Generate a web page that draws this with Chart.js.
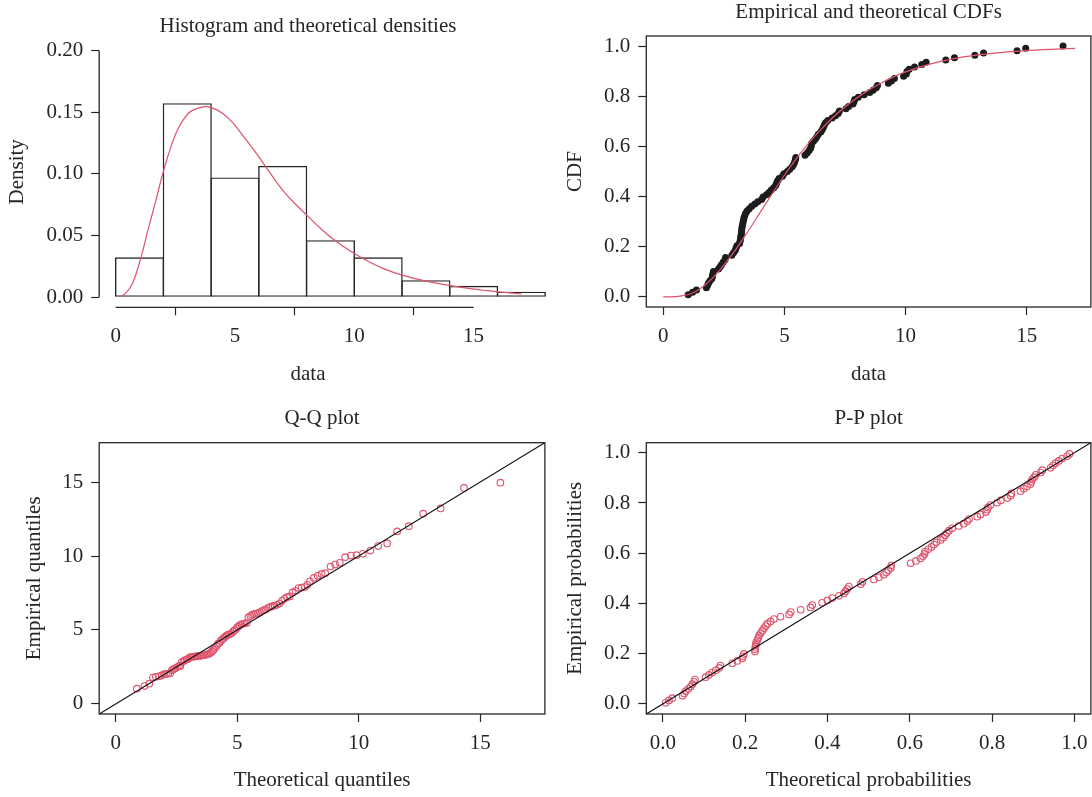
<!DOCTYPE html>
<html>
<head>
<meta charset="utf-8">
<script src="https://cdn.jsdelivr.net/npm/chart.js@4.4.1/dist/chart.umd.min.js"></script>
<style>
  html, body { margin: 0; padding: 0; background: #fff; }
  #wrap { position: relative; width: 1092px; height: 797px; }
  canvas { position: absolute; }
</style>
</head>
<body>
<div id="wrap">
  <canvas id="hist" width="546" height="398" style="left:0;top:0"></canvas>
  <canvas id="cdf" width="546" height="398" style="left:546px;top:0"></canvas>
  <canvas id="qq" width="546" height="399" style="left:0;top:398px"></canvas>
  <canvas id="pp" width="546" height="399" style="left:546px;top:398px"></canvas>
</div>
<script>
// sorted sample (read from the CDF / Q-Q panels)
const sampleData = [
  1.03, 1.21, 1.37, 1.78, 1.83, 1.87, 1.93, 2.01, 2.03, 2.05,
  2.07, 2.28, 2.35, 2.41, 2.48, 2.55, 2.57, 2.83, 2.90, 2.97,
  3.00, 3.04, 3.15, 3.17, 3.19, 3.20, 3.22, 3.23, 3.24, 3.25,
  3.27, 3.29, 3.31, 3.33, 3.36, 3.40, 3.46, 3.55, 3.65, 3.78,
  3.90, 4.06, 4.12, 4.26, 4.36, 4.46, 4.56, 4.64, 4.68, 4.72,
  4.78, 4.92, 4.98, 5.12, 5.22, 5.32, 5.38, 5.42, 5.45, 5.47,
  5.85, 5.94, 6.02, 6.08, 6.11, 6.12, 6.20, 6.28, 6.34, 6.40,
  6.50, 6.56, 6.61, 6.65, 6.70, 6.79, 6.97, 7.11, 7.22, 7.27,
  7.54, 7.65, 7.83, 7.87, 7.90, 8.05, 8.29, 8.52, 8.66, 8.79,
  8.84, 9.29, 9.42, 9.54, 9.92, 10.03, 10.06, 10.15, 10.37, 10.67,
  10.85, 11.66, 12.02, 12.86, 13.22, 14.60, 14.96, 16.50
];

// theoretical quantiles (Q-Q panel, x)
const qqTheo = [
  0.87, 1.18, 1.38, 1.53, 1.65, 1.78, 1.89, 1.99, 2.07, 2.16,
  2.24, 2.31, 2.38, 2.45, 2.52, 2.60, 2.66, 2.72, 2.79, 2.85,
  2.92, 2.98, 3.05, 3.11, 3.18, 3.24, 3.30, 3.36, 3.42, 3.48,
  3.54, 3.60, 3.66, 3.72, 3.78, 3.84, 3.90, 3.96, 4.02, 4.08,
  4.14, 4.20, 4.26, 4.32, 4.38, 4.45, 4.51, 4.57, 4.64, 4.70,
  4.77, 4.84, 4.90, 4.97, 5.03, 5.10, 5.17, 5.24, 5.31, 5.39,
  5.46, 5.54, 5.61, 5.69, 5.77, 5.85, 5.93, 6.01, 6.10, 6.18,
  6.27, 6.36, 6.45, 6.54, 6.64, 6.74, 6.84, 6.94, 7.05, 7.16,
  7.28, 7.40, 7.52, 7.65, 7.78, 7.88, 7.99, 8.15, 8.31, 8.47,
  8.62, 8.84, 9.03, 9.22, 9.44, 9.68, 9.91, 10.17, 10.48, 10.80,
  11.17, 11.58, 12.06, 12.65, 13.37, 14.33, 15.83, 19.0
];

// theoretical probabilities (P-P panel, x)
const ppTheo = [
  0.007, 0.015, 0.023, 0.048, 0.052, 0.056, 0.062, 0.068, 0.072, 0.076,
  0.078, 0.104, 0.112, 0.120, 0.129, 0.137, 0.140, 0.169, 0.181, 0.193,
  0.195, 0.197, 0.224, 0.224, 0.225, 0.226, 0.227, 0.230, 0.232, 0.234,
  0.238, 0.242, 0.246, 0.250, 0.254, 0.262, 0.270, 0.286, 0.307, 0.311,
  0.335, 0.359, 0.363, 0.387, 0.400, 0.412, 0.428, 0.440, 0.444, 0.448,
  0.452, 0.481, 0.485, 0.513, 0.525, 0.537, 0.543, 0.548, 0.554, 0.555,
  0.602, 0.615, 0.626, 0.632, 0.636, 0.637, 0.645, 0.653, 0.659, 0.665,
  0.675, 0.681, 0.686, 0.690, 0.695, 0.703, 0.719, 0.731, 0.740, 0.744,
  0.764, 0.772, 0.785, 0.788, 0.790, 0.796, 0.812, 0.821, 0.837, 0.845,
  0.847, 0.869, 0.877, 0.885, 0.893, 0.895, 0.897, 0.902, 0.906, 0.918,
  0.922, 0.942, 0.948, 0.954, 0.962, 0.970, 0.982, 0.988
];

// histogram bins
const binMids = [1, 3, 5, 7, 9, 11, 13, 15, 17];
const binDensity = [0.0324, 0.1574, 0.0972, 0.1065, 0.0463, 0.0324, 0.0139, 0.0093, 0.0046];

// fitted density curve
const densX = [0.2, 0.41, 0.7, 1.07, 1.36, 1.65, 1.97, 2.23, 2.6, 3.04, 3.4, 3.76, 4.13, 4.49, 4.93,
  5.37, 5.81, 6.25, 6.68, 7.12, 7.56, 8.0, 8.58, 9.16, 10.0, 10.6, 11.2, 12.0, 13.1, 14.0,
  14.86, 15.58, 16.3, 17.0];
const densY = [0.0005, 0.0032, 0.011, 0.033, 0.055, 0.076, 0.1, 0.117, 0.136, 0.149, 0.153, 0.1546,
  0.153, 0.149, 0.141, 0.130, 0.119, 0.107, 0.095, 0.084, 0.075, 0.0668, 0.056, 0.0465, 0.0355,
  0.029, 0.0235, 0.018, 0.0127, 0.0095, 0.007, 0.0054, 0.004, 0.0027];

// fitted CDF curve
const cdfX = [0, 0.25, 0.5, 0.75, 1, 1.25, 1.5, 1.75, 2, 2.25, 2.5, 2.75, 3, 3.5, 4, 4.5, 5, 5.5,
  6, 6.5, 7, 7.5, 8, 8.5, 9, 9.5, 10, 11, 12, 13, 14, 15, 16, 17];
const cdfY = [0, 0.0002, 0.001, 0.004, 0.009, 0.018, 0.032, 0.05, 0.072, 0.098, 0.127, 0.158, 0.19,
  0.262, 0.337, 0.412, 0.485, 0.552, 0.613, 0.667, 0.715, 0.757, 0.794, 0.826, 0.853, 0.877,
  0.897, 0.928, 0.95, 0.965, 0.975, 0.982, 0.987, 0.991];

// y = x reference line ends
const qqLine = [-1, 19];
const ppLine = [-0.1, 1.1];

// tick values
const histXTicks = [0, 5, 10, 15];
const histYTicks = [0, 0.05, 0.10, 0.15, 0.20];
const dataTicks = [0, 5, 10, 15];
const probTicks = [0, 0.2, 0.4, 0.6, 0.8, 1.0];

const INK = '#262626';
const RED = '#DF536B';
const FONT = '"Liberation Serif", "Times New Roman", serif';

function font(size) {
    return { family: FONT, size: size, weight: 'normal', lineHeight: 1 };
}

function axis(cfg) {
    return {
        type: 'linear',
        min: cfg.min,
        max: cfg.max,
        offset: false,
        afterBuildTicks: s => { s.ticks = cfg.ticks.map(v => ({ value: v })); },
        afterFit: s => {
            if (cfg.horizontal) s.height = cfg.size; else s.width = cfg.size;
            // labels may hang over the plot edge, as in R
            s.paddingLeft = s.paddingRight = s.paddingTop = s.paddingBottom = 0;
        },
        grid: { display: true, drawOnChartArea: false, drawTicks: true, tickLength: 8, tickWidth: 1.2, tickColor: INK },
        border: { display: false },
        ticks: {
            autoSkip: false, maxRotation: 0, minRotation: 0,
            padding: cfg.tickPad, color: INK, font: font(21),
            callback: v => Number(v).toFixed(cfg.digits)
        },
        title: {
            display: true, text: cfg.title, color: INK, font: font(21),
            padding: cfg.horizontal ? { top: 0, bottom: cfg.titlePad } : { top: cfg.titlePad, bottom: 0 }
        }
    };
}

// R style axes: a full box, or bare axis lines between the outer ticks
const frame = {
    id: 'frame',
    afterDatasetsDraw(chart, args, opts) {
        const { ctx, chartArea: a, scales } = chart;
        ctx.save();
        ctx.strokeStyle = INK;
        ctx.lineWidth = 1.3;
        if (opts.box) {
            ctx.strokeRect(a.left, a.top, a.right - a.left, a.bottom - a.top);
        } else {
            ctx.beginPath();
            ctx.moveTo(a.left, scales.y.getPixelForValue(opts.yFrom));
            ctx.lineTo(a.left, scales.y.getPixelForValue(opts.yTo));
            ctx.moveTo(scales.x.getPixelForValue(opts.xFrom), a.bottom);
            ctx.lineTo(scales.x.getPixelForValue(opts.xTo), a.bottom);
            ctx.stroke();
        }
        ctx.restore();
    }
};

function baseOptions(title, titlePad, rightPad, frameOpts, scales) {
    return {
        responsive: false,
        animation: false,
        events: [],
        layout: { autoPadding: false, padding: { left: 0, right: rightPad, top: 0, bottom: 0 } },
        plugins: {
            legend: { display: false },
            tooltip: { enabled: false },
            title: { display: true, text: title, color: INK, font: font(21), fullSize: false, padding: titlePad },
            frame: frameOpts
        },
        scales: scales
    };
}

const n = sampleData.length;
const pts = (xs, ys) => xs.map((x, i) => ({ x: x, y: ys[i] }));

// Histogram and theoretical densities
new Chart(document.getElementById('hist'), {
    type: 'bar',
    data: {
        datasets: [
            {
                type: 'line', data: pts(densX, densY), borderColor: RED, borderWidth: 1.2,
                pointRadius: 0, tension: 0.4, fill: false, clip: false
            },
            {
                type: 'bar', data: pts(binMids, binDensity), backgroundColor: 'rgba(0,0,0,0)',
                borderColor: INK, borderWidth: 1.4, borderSkipped: false,
                barPercentage: 1.029, categoryPercentage: 1, clip: false
            }
        ]
    },
    options: baseOptions('Histogram and theoretical densities', { top: 16.4, bottom: -1.1 }, 29.2,
        { box: false, xFrom: 0, xTo: 15, yFrom: 0, yTo: 0.2 },
        {
            x: axis({ horizontal: true, min: -0.69, max: 16.81, ticks: histXTicks, digits: 0, title: 'data', titlePad: 12.9, size: 90.7, tickPad: 11 }),
            y: axis({ min: -0.0081, max: 0.2116, ticks: histYTicks, digits: 2, title: 'Density', titlePad: 6.7, size: 99.2, tickPad: 8 })
        }),
    plugins: [frame]
});

// Empirical and theoretical CDFs
new Chart(document.getElementById('cdf'), {
    type: 'scatter',
    data: {
        datasets: [
            {
                data: pts(cdfX, cdfY), showLine: true, borderColor: RED, borderWidth: 1.2,
                pointRadius: 0, cubicInterpolationMode: 'monotone', clip: 0
            },
            {
                data: sampleData.map((x, i) => ({ x: x, y: (i + 1) / n })),
                pointRadius: 3.5, pointBackgroundColor: '#1c1c1c', pointBorderColor: '#1c1c1c', pointBorderWidth: 0
            }
        ]
    },
    options: baseOptions('Empirical and theoretical CDFs', { top: 1.7, bottom: 13.3 }, 1.1,
        { box: true },
        {
            x: axis({ horizontal: true, min: -0.70, max: 17.65, ticks: dataTicks, digits: 0, title: 'data', titlePad: 12.9, size: 91, tickPad: 11 }),
            y: axis({ min: -0.04, max: 1.04, ticks: probTicks, digits: 1, title: 'CDF', titlePad: 18.9, size: 100.3, tickPad: 8 })
        }),
    plugins: [frame]
});

// Q-Q plot
new Chart(document.getElementById('qq'), {
    type: 'scatter',
    data: {
        datasets: [
            { data: pts(qqLine, qqLine), showLine: true, borderColor: '#111', borderWidth: 1.2, pointRadius: 0, clip: 0 },
            {
                data: pts(qqTheo, sampleData), pointRadius: 3.3, pointBorderWidth: 1.1,
                pointBorderColor: RED, pointBackgroundColor: 'rgba(0,0,0,0)'
            }
        ]
    },
    options: baseOptions('Q-Q plot', { top: 10.4, bottom: 13.3 }, 1.1,
        { box: true },
        {
            x: axis({ horizontal: true, min: -0.68, max: 17.66, ticks: dataTicks, digits: 0, title: 'Theoretical quantiles', titlePad: 5.9, size: 83, tickPad: 11 }),
            y: axis({ min: -0.68, max: 17.66, ticks: dataTicks, digits: 0, title: 'Empirical quantiles', titlePad: 23.5, size: 99.2, tickPad: 8 })
        }),
    plugins: [frame]
});

// P-P plot
new Chart(document.getElementById('pp'), {
    type: 'scatter',
    data: {
        datasets: [
            { data: pts(ppLine, ppLine), showLine: true, borderColor: '#111', borderWidth: 1.2, pointRadius: 0, clip: 0 },
            {
                data: ppTheo.map((p, i) => ({ x: p, y: (i + 0.5) / n })), pointRadius: 3.3, pointBorderWidth: 1.1,
                pointBorderColor: RED, pointBackgroundColor: 'rgba(0,0,0,0)'
            }
        ]
    },
    options: baseOptions('P-P plot', { top: 10.4, bottom: 13.3 }, 1.1,
        { box: true },
        {
            x: axis({ horizontal: true, min: -0.04, max: 1.04, ticks: probTicks, digits: 1, title: 'Theoretical probabilities', titlePad: 5.9, size: 83, tickPad: 11 }),
            y: axis({ min: -0.04, max: 1.04, ticks: probTicks, digits: 1, title: 'Empirical probabilities', titlePad: 18.9, size: 100.3, tickPad: 8 })
        }),
    plugins: [frame]
});
</script>
</body>
</html>
